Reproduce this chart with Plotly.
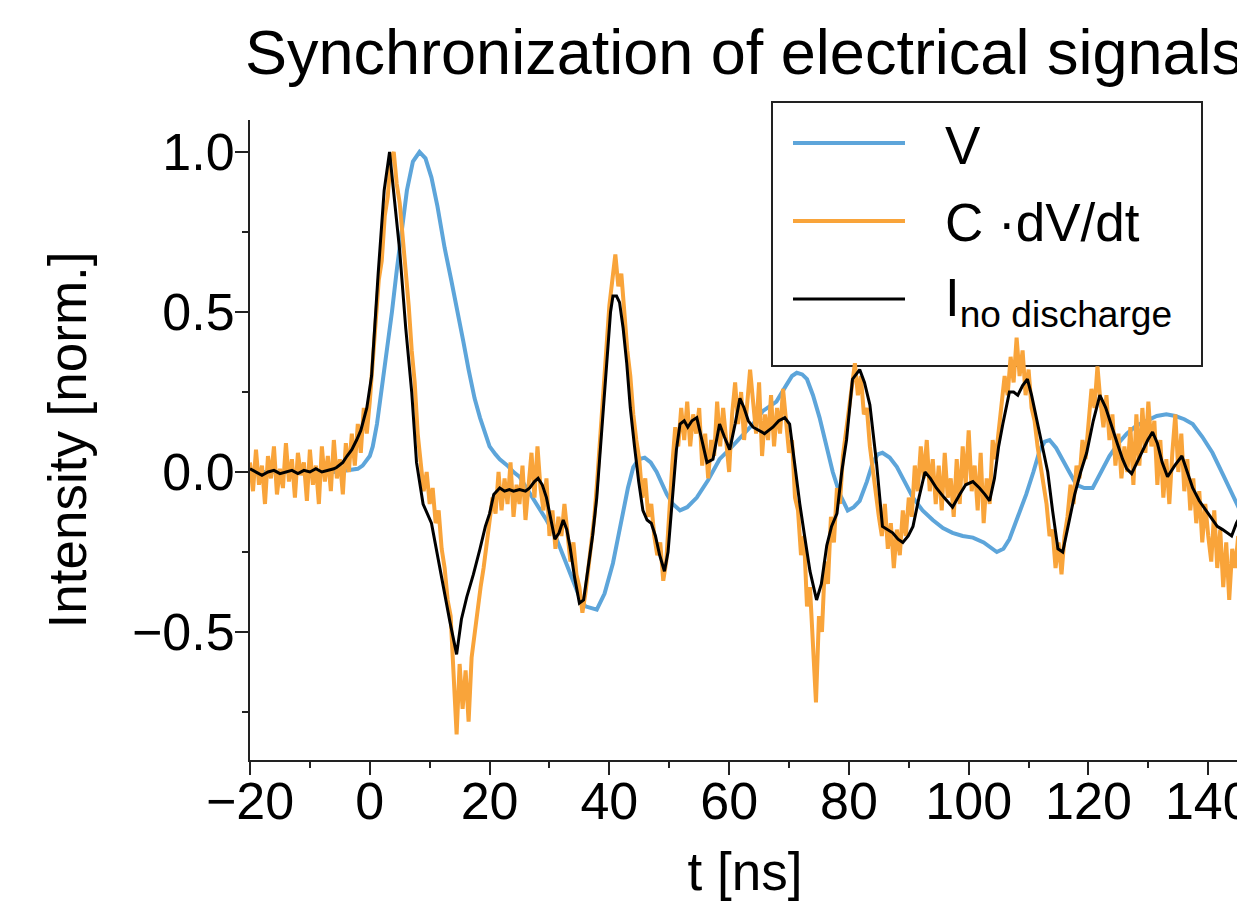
import numpy as np
import plotly.graph_objects as go

# ---------------- data ----------------
# V (blue), traced points
t_v = [-20, -15, -10, -6, -4, -2, -1.2, 0, 0.5, 1.2, 2.2, 3, 3.7, 4.5, 5.3, 6.2, 7.2, 8.3,
       9.3, 10.3, 11.3, 12.5, 13.6, 14.7, 15.6, 16.5, 17.5, 18.4, 19.2, 20, 21, 21.7, 23, 24,
       25, 26, 26.7, 28, 29.5, 31, 32.5, 34, 35, 36, 37.9, 39.2, 40.6, 41.4, 42.2, 43.1, 44,
       44.9, 45.9, 46.9, 47.9, 48.7, 49.6, 50.6, 51.8, 53, 54.6, 56.5, 58.4, 60, 62, 64, 65.6,
       67.9, 69.5, 70.5, 71.3, 72.2, 73, 74, 75.1, 76.2, 77.3, 78.5, 79.8, 80.8, 81.8, 83, 84,
       84.8, 85.6, 86.8, 88, 89.3, 90.7, 92.3, 94, 95.7, 97.3, 99, 100.7, 102.5, 104.7, 105.8,
       106.8, 108.2, 109.6, 110.8, 111.9, 112.7, 113.5, 114.6, 115.7, 116.8, 118, 119.3, 120.7,
       122.1, 123.5, 125, 126.4, 128, 129.7, 131.4, 133, 134.5, 136, 137.4, 139, 140.7, 142.5,
       144.7, 145.3]
v_signal = [0.0, 0.0, 0.0, 0.0, 0.005, 0.01, 0.02, 0.05, 0.08, 0.15, 0.29, 0.40, 0.5, 0.63, 0.76,
            0.88, 0.97, 1.0, 0.98, 0.92, 0.83, 0.70, 0.6, 0.5, 0.41, 0.32, 0.23, 0.17, 0.12, 0.08,
            0.055, 0.04, 0.02, 0.0, -0.015, -0.045, -0.066, -0.1, -0.15, -0.2, -0.27, -0.34, -0.39,
            -0.42, -0.43, -0.38, -0.285, -0.21, -0.13, -0.05, 0.015, 0.04, 0.045, 0.03, 0.0, -0.035,
            -0.07, -0.1, -0.12, -0.11, -0.08, -0.025, 0.04, 0.07, 0.11, 0.15, 0.19, 0.22, 0.27, 0.3,
            0.31, 0.305, 0.29, 0.24, 0.17, 0.08, 0.0, -0.07, -0.12, -0.11, -0.09, -0.03, 0.03, 0.055,
            0.06, 0.045, 0.016, -0.03, -0.08, -0.12, -0.15, -0.175, -0.19, -0.2, -0.205, -0.22,
            -0.25, -0.24, -0.21, -0.14, -0.07, 0.0, 0.07, 0.095, 0.1, 0.075, 0.04, 0.0, -0.04, -0.05,
            -0.05, 0.0, 0.05, 0.09, 0.12, 0.145, 0.16, 0.175, 0.18, 0.175, 0.165, 0.15, 0.11, 0.06,
            -0.01, -0.1, -0.12]

# I no discharge (black), traced points
t_i = [-20, -19, -18, -17, -16, -15, -14, -13, -12, -11, -10, -9, -8, -7, -6, -5.5, -4.5, -3.8,
       -3, -2.2, -1.5, -0.5, 0.3, 1.4, 2.4, 3.3, 4.2, 5, 6, 7, 7.8, 8.9, 10.3, 11.2, 12.2, 13.4,
       14.5, 15.3, 16.2, 17.3, 18.4, 19.3, 20, 20.7, 21.7, 22.5, 23.3, 24, 25, 26, 26.7, 27.5,
       28.1, 28.8, 29.5, 30.2, 30.9, 31.6, 32.3, 32.9, 33.4, 34.2, 35, 35.7, 36.5, 37.2, 37.9,
       38.8, 39.6, 40.2, 40.6, 41.2, 41.7, 42.3, 42.9, 43.5, 44.2, 44.9, 45.6, 46.3, 47, 47.7,
       48.4, 49.2, 49.8, 50.6, 51.2, 51.8, 52.5, 53.1, 53.8, 54.6, 55.4, 56.3, 57.3, 58.4, 59.2,
       60.1, 61, 61.8, 62.5, 63.2, 64, 65, 65.9, 66.6, 67.3, 68.3, 69.3, 70.1, 70.9, 71.8, 72.6,
       73.5, 74.6, 75.4, 76.3, 77.1, 78, 78.8, 79.6, 80.6, 81.8, 82.6, 83.5, 84.1, 84.6, 85.6,
       86.5, 87.3, 88.2, 89, 89.9, 90.7, 91.7, 92.7, 93.6, 94.6, 95.9, 97.3, 98.5, 99.5, 100.7,
       101.8, 102.7, 103.5, 104.3, 105, 105.7, 106.8, 107.5, 108.2, 109, 109.8, 110.5, 111.2,
       111.9, 112.6, 113.2, 114, 114.9, 115.7, 116.7, 117.7, 118.7, 119.7, 120.8, 121.9, 122.9,
       124, 124.8, 125.7, 126.4, 127.2, 128.1, 129, 129.9, 130.7, 131.5, 132.3, 133.2, 134.4,
       135.6, 136.5, 137.4, 138.5, 139.6, 140.7, 141.5, 142.4, 143.2, 143.9, 144.7, 145.3]
i_signal = [0.01, 0.0, -0.01, 0.0, 0.005, -0.005, 0.0, 0.005, -0.005, 0.005, 0.0, 0.01, 0.0,
            0.005, 0.01, 0.015, 0.03, 0.05, 0.07, 0.1, 0.13, 0.2, 0.3, 0.62, 0.88, 1.0, 0.84, 0.69,
            0.45, 0.25, 0.03, -0.1, -0.16, -0.25, -0.36, -0.47, -0.57, -0.46, -0.39, -0.32, -0.24,
            -0.17, -0.13, -0.07, -0.05, -0.06, -0.055, -0.06, -0.055, -0.06, -0.05, -0.03, -0.02,
            -0.04, -0.08, -0.15, -0.21, -0.19, -0.15, -0.18, -0.23, -0.33, -0.41, -0.40, -0.3, -0.2,
            -0.08, 0.15, 0.34, 0.5, 0.55, 0.55, 0.53, 0.45, 0.34, 0.2, 0.08, -0.03, -0.12, -0.15,
            -0.16, -0.2, -0.26, -0.31, -0.25, -0.08, 0.07, 0.15, 0.16, 0.14, 0.16, 0.17, 0.1, 0.03,
            0.04, 0.15, 0.11, 0.07, 0.15, 0.23, 0.2, 0.16, 0.14, 0.13, 0.12, 0.13, 0.14, 0.16, 0.17,
            0.15, 0.03, -0.1, -0.2, -0.31, -0.40, -0.35, -0.23, -0.17, -0.13, 0.0, 0.1, 0.29, 0.32,
            0.28, 0.21, 0.12, 0.03, -0.17, -0.18, -0.19, -0.21, -0.22, -0.2, -0.17, -0.08, 0.0,
            -0.02, -0.05, -0.08, -0.11, -0.07, -0.04, -0.03, -0.05, -0.07, -0.09, -0.02, 0.08, 0.15,
            0.25, 0.25, 0.24, 0.27, 0.29, 0.24, 0.18, 0.12, 0.05, 0.0, -0.12, -0.24, -0.25, -0.16,
            -0.07, 0.0, 0.06, 0.16, 0.24, 0.2, 0.14, 0.09, 0.04, 0.01, -0.005, 0.03, 0.06, 0.1,
            0.125, 0.09, 0.03, -0.015, 0.02, 0.05, 0.0, -0.05, -0.09, -0.12, -0.15, -0.17, -0.18,
            -0.19, -0.2, -0.16, -0.14]

# C*dV/dt (orange), sampled every 0.5 ns from -20 ns to 145 ns
t_c = np.arange(-20.0, 145.01, 0.5)
c_signal = [
    0.03, -0.06, 0.07, -0.04, 0.02, -0.1, 0.05, -0.02, 0.08, -0.07,      # -20
    0.01, -0.05, 0.09, -0.03, 0.04, -0.08, 0.06, -0.01, 0.03, -0.09,     # -15
    0.07, -0.04, 0.02, -0.1, 0.08, -0.03, 0.05, -0.06, 0.1, -0.02,       # -10
    0.04, -0.07, 0.09, 0.0, 0.12, 0.02, 0.15, 0.06, 0.2, 0.12,           # -5
    0.22, 0.35, 0.45, 0.6, 0.66, 0.8, 0.86, 0.98, 1.0, 0.9,              # 0
    0.84, 0.74, 0.62, 0.52, 0.38, 0.28, 0.12, 0.03, -0.06, 0.0,          # 5
    -0.1, -0.05, -0.16, -0.12, -0.24, -0.3, -0.4, -0.45, -0.62, -0.82,   # 10
    -0.6, -0.74, -0.62, -0.78, -0.58, -0.5, -0.42, -0.36, -0.3, -0.22,   # 15
    -0.16, -0.08, -0.13, 0.0, -0.12, -0.02, -0.1, 0.03, -0.14, -0.04,    # 20
    -0.1, 0.02, -0.15, -0.03, 0.06, -0.08, 0.08, -0.05, -0.12, -0.02,    # 25
    -0.2, -0.12, -0.24, -0.14, -0.2, -0.1, -0.18, -0.28, -0.22, -0.32,   # 30
    -0.36, -0.44, -0.38, -0.3, -0.2, -0.14, -0.02, 0.12, 0.26, 0.4,      # 35
    0.52, 0.6, 0.68, 0.58, 0.62, 0.5, 0.38, 0.3, 0.18, 0.1,              # 40
    0.04, -0.08, -0.02, -0.14, -0.1, -0.2, -0.26, -0.22, -0.34, -0.28,   # 45
    -0.12, 0.02, 0.14, 0.08, 0.2, 0.1, 0.22, 0.08, 0.18, 0.12,           # 50
    0.2, 0.02, 0.12, -0.02, 0.1, 0.05, 0.22, 0.08, 0.2, 0.1,             # 55
    0.0, 0.18, 0.28, 0.15, 0.25, 0.1, 0.2, 0.32, 0.22, 0.12,             # 60
    0.28, 0.05, 0.18, 0.1, 0.24, 0.08, 0.2, 0.12, 0.26, 0.14,            # 65
    0.06, 0.1, -0.08, -0.12, -0.26, -0.2, -0.42, -0.36, -0.55, -0.72,    # 70
    -0.45, -0.5, -0.28, -0.35, -0.14, -0.22, -0.05, -0.1, 0.05, 0.12,    # 75
    0.2, 0.28, 0.34, 0.24, 0.3, 0.18, 0.2, 0.08, 0.0, -0.06,             # 80
    -0.14, -0.2, -0.1, -0.24, -0.16, -0.3, -0.18, -0.26, -0.12, -0.2,    # 85
    -0.08, -0.14, 0.02, -0.06, 0.08, -0.02, 0.1, -0.06, 0.04, -0.1,      # 90
    0.02, -0.12, 0.06, -0.08, -0.02, -0.14, 0.04, -0.1, 0.08, -0.04,     # 95
    0.13, -0.06, 0.02, -0.12, 0.06, -0.16, -0.02, -0.1, 0.1, 0.04,       # 100
    0.12, 0.2, 0.3, 0.24, 0.36, 0.28, 0.42, 0.3, 0.38, 0.24,             # 105
    0.32, 0.2, 0.16, 0.08, 0.02, -0.06, -0.1, -0.2, -0.18, -0.3,         # 110
    -0.22, -0.32, -0.2, -0.14, -0.04, -0.1, 0.02, -0.02, 0.1, 0.04,      # 115
    0.16, 0.26, 0.2, 0.33, 0.22, 0.14, 0.24, 0.1, 0.18, 0.02,            # 120
    0.12, -0.02, 0.08, 0.0, 0.14, -0.04, 0.18, 0.02, 0.2, 0.06,          # 125
    0.22, 0.08, 0.16, -0.04, 0.1, -0.08, 0.04, -0.1, 0.06, 0.18,         # 130
    0.0, 0.12, -0.06, 0.04, -0.12, -0.02, -0.16, -0.06, -0.22, -0.1,     # 135
    -0.2, -0.28, -0.12, -0.3, -0.18, -0.36, -0.22, -0.4, -0.24, -0.3,    # 140
    -0.2,                                                                 # 145
]

x_ticks = [-20, 0, 20, 40, 60, 80, 100, 120, 140]
y_ticks = [-0.5, 0.0, 0.5, 1.0]
series_names = ["V", "C ·dV/dt", "I<sub>no discharge</sub>"]
series_colors = ["#5DA5DA", "#F9A43A", "#000000"]

# ---------------- figure ----------------
FONT = "Liberation Sans, Arial, Helvetica, sans-serif"
OFF = 8                       # page body margin of the exported html
W, H = 1245 - OFF, 901 - OFF  # figure size so that it ends at the window edge
L, R, T, B = 250 - OFF, 1240 - OFF, 120 - OFF, 760 - OFF   # plot area in figure px

fig = go.Figure()
fig.add_trace(go.Scatter(x=t_v, y=v_signal, mode="lines", name=series_names[0],
                         line=dict(color=series_colors[0], width=4), showlegend=False))
fig.add_trace(go.Scatter(x=t_c, y=c_signal, mode="lines", name=series_names[1],
                         line=dict(color=series_colors[1], width=4), showlegend=False))
fig.add_trace(go.Scatter(x=t_i, y=i_signal, mode="lines", name=series_names[2],
                         line=dict(color=series_colors[2], width=3), showlegend=False))

axis_common = dict(
    showline=True, linecolor="#222", linewidth=2, mirror=False,
    ticks="outside", ticklen=13, tickwidth=2, tickcolor="#222",
    showgrid=False, zeroline=False, ticklabeloverflow="allow",
    tickfont=dict(family=FONT, size=52, color="#000"),
)
fig.update_xaxes(range=[-20, 145.3], tickvals=x_ticks, ticklabelstandoff=-18,
                 minor=dict(dtick=10, tick0=0, ticks="outside", ticklen=6, tickwidth=2, tickcolor="#222"),
                 title=dict(text="t [ns]", font=dict(family=FONT, size=53, color="#000"), standoff=24),
                 **axis_common)
fig.update_yaxes(range=[-0.9, 1.1], tickvals=y_ticks, tickformat=".1f", ticklabelstandoff=-10,
                 minor=dict(dtick=0.25, tick0=0, ticks="outside", ticklen=6, tickwidth=2, tickcolor="#222"),
                 title=dict(text="Intensity [norm.]", font=dict(family=FONT, size=53, color="#000"), standoff=28),
                 **axis_common)

# manual legend (box drawn below the data, as in the reference)
def px(x):
    return (x - OFF - L) / (R - L)
def py(y):
    return (B - (y - OFF)) / (B - T)

fig.add_shape(type="rect", xref="paper", yref="paper", layer="below",
              x0=px(772), x1=px(1202), y0=py(366), y1=py(102),
              line=dict(color="#222", width=2), fillcolor="rgba(0,0,0,0)")
leg_rows = [143, 221, 299]
for name, col, yy in zip(series_names, series_colors, leg_rows):
    fig.add_shape(type="line", xref="paper", yref="paper",
                  x0=px(793), x1=px(905), y0=py(yy), y1=py(yy),
                  line=dict(color=col, width=4 if col != "#000000" else 3))
    fig.add_annotation(xref="paper", yref="paper", x=px(943), y=py(yy + 2),
                       xanchor="left", yanchor="middle", showarrow=False,
                       text=name, font=dict(family=FONT, size=53, color="#000"))

fig.update_layout(
    width=W, height=H,
    margin=dict(l=L, r=W - R, t=T, b=H - B, autoexpand=False),
    paper_bgcolor="white", plot_bgcolor="white",
    title=dict(text="Synchronization of electrical signals",
               font=dict(family=FONT, size=63, color="#000"),
               xref="container", x=(245 - OFF) / W, xanchor="left",
               yref="container", y=1 - (52 - OFF) / H, yanchor="middle"),
    showlegend=False,
)

fig.write_html("out.html")
